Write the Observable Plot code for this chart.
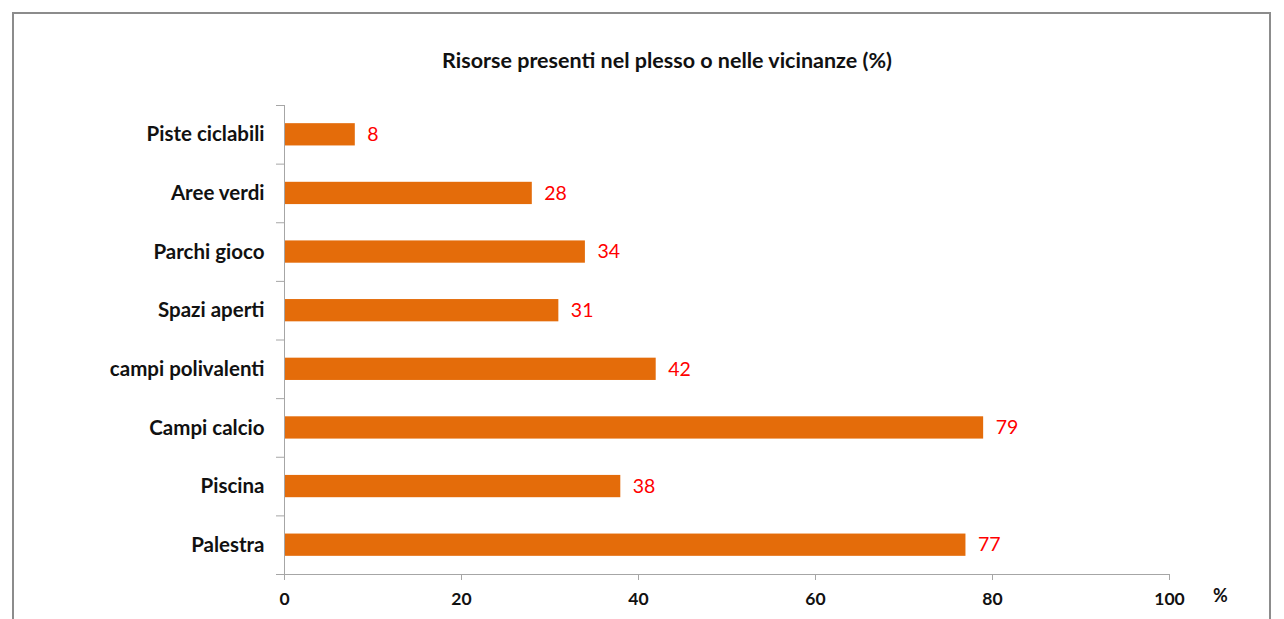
<!DOCTYPE html>
<html>
<head>
<meta charset="utf-8">
<script src="https://cdn.jsdelivr.net/npm/d3@7"></script>
<script src="https://cdn.jsdelivr.net/npm/@observablehq/plot@0.6"></script>
<style>
  html, body { margin: 0; padding: 0; background: #fff; overflow: hidden; }
  body { width: 1284px; height: 619px; position: relative; font-family: Lato, "Open Sans", sans-serif; }
  #frame { position: absolute; left: 12px; top: 12px; width: 1259px; height: 640px; border: 2px solid #8c8c8c; box-sizing: border-box; }
  #title { position: absolute; left: 0; width: 1334px; top: 47px; text-align: center; font-weight: bold; font-size: 21.5px; color: #111; }
  #unit { position: absolute; left: 1213px; top: 584px; font-weight: bold; font-size: 18px; color: #111; }
  #chart { position: absolute; left: 0; top: 0; }
</style>
</head>
<body>
<div id="frame"></div>
<div id="title">Risorse presenti nel plesso o nelle vicinanze (%)</div>
<div id="chart"></div>
<div id="unit">%</div>
<script>
const categories = ["Piste ciclabili", "Aree verdi", "Parchi gioco", "Spazi aperti", "campi polivalenti", "Campi calcio", "Piscina", "Palestra"];
const values = [8, 28, 34, 31, 42, 79, 38, 77];
const xTicks = [0, 20, 40, 60, 80, 100];

const data = categories.map((c, i) => ({category: c, value: values[i]}));

const W = 1284, H = 619, mT = 105, mB = 45, mL = 284, mR = 115;
const step = (H - mT - mB) / categories.length;
const axisColor = "#a6a6a6";
const fontFam = "Lato, 'Open Sans', sans-serif";

const chart = Plot.plot({
  width: W,
  height: H,
  marginTop: mT,
  marginBottom: mB,
  marginLeft: mL,
  marginRight: mR,
  style: {fontFamily: fontFam, background: "transparent", overflow: "visible"},
  x: {domain: [0, 100], ticks: xTicks},
  y: {domain: categories, paddingInner: 0.62, paddingOuter: 0.31, round: false},
  marks: [
    Plot.barX(data, {x: "value", y: "category", fill: "#E46C0A"}),
    Plot.text(data, {x: "value", y: "category", text: d => String(d.value), textAnchor: "start", dx: 12, fill: "#ff0000", fontSize: 19.5, fontFamily: fontFam}),
    // axis lines
    Plot.frame({anchor: "left", stroke: axisColor}),
    Plot.frame({anchor: "bottom", stroke: axisColor}),
    // x axis
    Plot.axisX({ticks: xTicks, tickSize: 6, tickPadding: 12, stroke: axisColor, fill: "#111", fontWeight: "bold", fontSize: 17.5, label: null, tickFormat: d => String(d)}),
    // y axis boundary ticks
    Plot.axisY({ticks: categories, tickSize: 8, dy: -step / 2, tickFormat: () => "", stroke: axisColor, label: null}),
    Plot.axisY({ticks: [categories[categories.length - 1]], tickSize: 8, dy: step / 2, tickFormat: () => "", stroke: axisColor, label: null}),
    // y axis labels
    Plot.axisY({tickSize: 0, tickPadding: 20, fill: "#111", fontWeight: "bold", fontSize: 20.5, label: null})
  ]
});
document.getElementById("chart").appendChild(chart);
</script>
</body>
</html>
